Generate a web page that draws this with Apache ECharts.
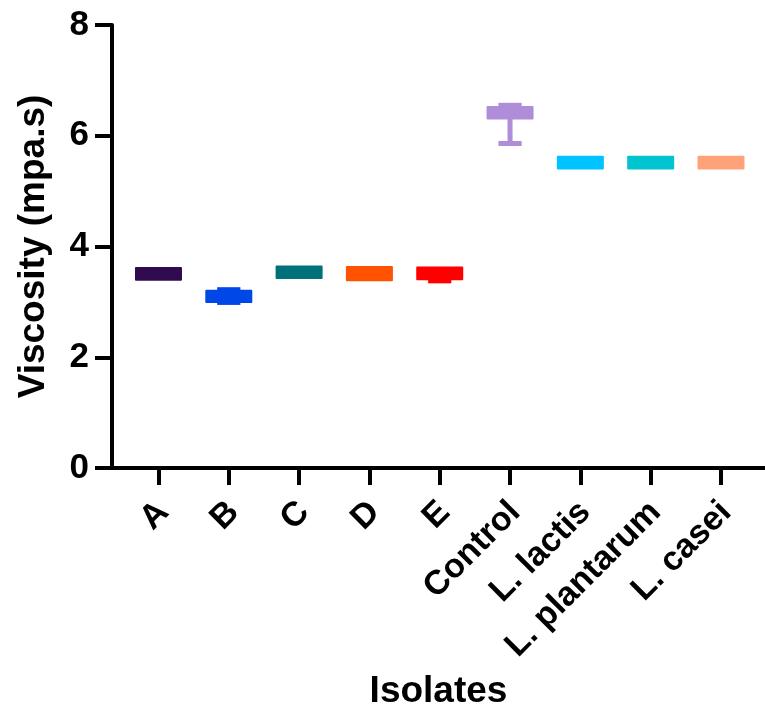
<!DOCTYPE html>
<html>
<head>
<meta charset="utf-8">
<script src="https://cdn.jsdelivr.net/npm/echarts@6/dist/echarts.min.js"></script>
<style>
html,body{margin:0;padding:0;background:#fff;}
#chart{width:765px;height:718px;}
</style>
</head>
<body>
<div id="chart"></div>
<script>
const categories = ['A', 'B', 'C', 'D', 'E', 'Control', 'L. lactis', 'L. plantarum', 'L. casei'];
const minVals    = [3.40, 2.99, 3.43, 3.39, 3.38, 5.86, 5.41, 5.41, 5.41];
const q1Vals     = [3.40, 3.00, 3.43, 3.39, 3.41, 6.31, 5.41, 5.41, 5.41];
const medianVals = [3.50, 3.10, 3.53, 3.50, 3.50, 6.40, 5.50, 5.50, 5.50];
const q3Vals     = [3.61, 3.20, 3.64, 3.63, 3.62, 6.52, 5.62, 5.62, 5.62];
const maxVals    = [3.61, 3.22, 3.64, 3.63, 3.62, 6.55, 5.62, 5.62, 5.62];
const yTicks = [0, 2, 4, 6, 8];

const colors = ['#300B50', '#0047E8', '#00707A', '#FF5300', '#FF0000', '#AF8DD9', '#00C3FF', '#00C5D0', '#FFA27A'];

const data = categories.map((c, i) => [i, minVals[i], q1Vals[i], medianVals[i], q3Vals[i], maxVals[i]]);

const BOX_W = 0.64;
const CAP_W = 0.33;
const FONT = '"Liberation Sans", Arial, Helvetica, sans-serif';

function renderItem(params, api) {
  const x = api.value(0);
  const vmin = api.value(1), q1 = api.value(2), med = api.value(3), q3 = api.value(4), vmax = api.value(5);
  const c = colors[params.dataIndex];
  const boxW = api.size([BOX_W, 0])[0];
  const capW = api.size([CAP_W, 0])[0];
  const pQ1 = api.coord([x, q1]);
  const pQ3 = api.coord([x, q3]);
  const pMed = api.coord([x, med]);
  const children = [];
  children.push({
    type: 'rect',
    shape: { x: pQ1[0] - boxW / 2, y: pQ3[1], width: boxW, height: pQ1[1] - pQ3[1] },
    style: { fill: c, stroke: c, lineWidth: 2, lineJoin: 'round' }
  });
  children.push({
    type: 'line',
    shape: { x1: pMed[0] - boxW / 2, y1: pMed[1], x2: pMed[0] + boxW / 2, y2: pMed[1] },
    style: { stroke: c, lineWidth: 2 }
  });
  if (vmax > q3) {
    const p = api.coord([x, vmax]);
    children.push({ type: 'line', shape: { x1: p[0], y1: p[1], x2: p[0], y2: pQ3[1] }, style: { stroke: c, lineWidth: 5 } });
    children.push({ type: 'line', shape: { x1: p[0] - capW / 2, y1: p[1], x2: p[0] + capW / 2, y2: p[1] }, style: { stroke: c, lineWidth: 5 } });
  }
  if (vmin < q1) {
    const p = api.coord([x, vmin]);
    children.push({ type: 'line', shape: { x1: p[0], y1: p[1], x2: p[0], y2: pQ1[1] }, style: { stroke: c, lineWidth: 5 } });
    children.push({ type: 'line', shape: { x1: p[0] - capW / 2, y1: p[1], x2: p[0] + capW / 2, y2: p[1] }, style: { stroke: c, lineWidth: 5 } });
  }
  return { type: 'group', children };
}

const chart = echarts.init(document.getElementById('chart'), null, { renderer: 'canvas' });
chart.setOption({
  animation: false,
  backgroundColor: '#fff',
  grid: { left: 112, right: 0, top: 25, bottom: 250, containLabel: false },
  xAxis: {
    type: 'value',
    min: -0.661,
    max: 8.626,
    name: 'Isolates',
    nameLocation: 'middle',
    nameGap: 205,
    nameTextStyle: { fontFamily: FONT, fontWeight: 'bold', fontSize: 37, color: '#000' },
    splitLine: { show: false },
    axisLine: { show: true, onZero: false, lineStyle: { color: '#000', width: 4 } },
    axisTick: { show: true, customValues: categories.map((c, i) => i), length: 17, lineStyle: { color: '#000', width: 4 } },
    axisLabel: {
      customValues: categories.map((c, i) => i),
      formatter: v => categories[Math.round(v)],
      rotate: 45,
      margin: 20,
      align: 'right',
      verticalAlign: 'top',
      padding: [0, 10, 0, 0],
      fontFamily: FONT, fontWeight: 'bold', fontSize: 34, color: '#000'
    }
  },
  yAxis: {
    type: 'value',
    min: 0, max: 8, interval: 2,
    name: 'Viscosity (mpa.s)',
    nameLocation: 'middle',
    nameGap: 60,
    nameTextStyle: { fontFamily: FONT, fontWeight: 'bold', fontSize: 37, color: '#000' },
    splitLine: { show: false },
    axisLine: { show: true, onZero: false, lineStyle: { color: '#000', width: 4 } },
    axisTick: { show: true, length: 17, lineStyle: { color: '#000', width: 4 } },
    axisLabel: {
      margin: 23,
      formatter: v => yTicks.includes(v) ? String(v) : '',
      fontFamily: FONT, fontWeight: 'bold', fontSize: 35, color: '#000'
    }
  },
  series: [{
    type: 'custom',
    renderItem: renderItem,
    encode: { x: 0, y: [1, 2, 3, 4, 5] },
    data: data
  }]
});
</script>
</body>
</html>
